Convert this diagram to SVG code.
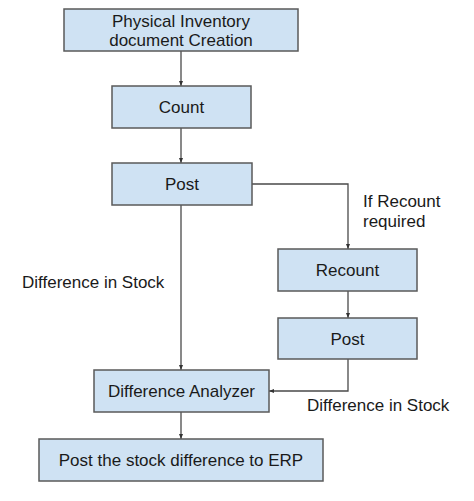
<svg xmlns="http://www.w3.org/2000/svg" width="474" height="501" viewBox="0 0 474 501">
<defs>
<style>
.box{fill:#cfe2f3;stroke:#5a5a5a;stroke-width:1.5}
.t{font-family:"Liberation Sans",Arial,sans-serif;font-size:17px;fill:#1a1a1a}
.c{text-anchor:middle}
.ln{fill:none;stroke:#4a4a4a;stroke-width:1.3}
</style>
<marker id="ah" viewBox="0 0 10 10" refX="10" refY="5" markerWidth="5" markerHeight="5" orient="auto" markerUnits="userSpaceOnUse">
<path d="M0,1 L10,5 L0,9 z" fill="#333"/>
</marker>
</defs>
<rect width="474" height="501" fill="#ffffff"/>
<g id="connectors">
<line class="ln" x1="181" y1="51" x2="181" y2="86" marker-end="url(#ah)"/>
<line class="ln" x1="181" y1="128" x2="181" y2="163" marker-end="url(#ah)"/>
<line class="ln" x1="181" y1="205" x2="181" y2="370" marker-end="url(#ah)"/>
<polyline class="ln" points="252,184 348,184 348,249" marker-end="url(#ah)"/>
<line class="ln" x1="348" y1="291" x2="348" y2="318" marker-end="url(#ah)"/>
<polyline class="ln" points="348,359 348,391 269,391" marker-end="url(#ah)"/>
<line class="ln" x1="181" y1="412" x2="181" y2="439" marker-end="url(#ah)"/>
</g>
<g id="n1"><rect class="box" x="64" y="9" width="234" height="42"/>
<text class="t c" x="181" y="27">Physical Inventory</text>
<text class="t c" x="181" y="46">document Creation</text></g>
<g id="n2"><rect class="box" x="112" y="86" width="139" height="42"/>
<text class="t c" x="181.5" y="113">Count</text></g>
<g id="n3"><rect class="box" x="112" y="163" width="140" height="42"/>
<text class="t c" x="182" y="190">Post</text></g>
<g id="n4"><rect class="box" x="278" y="249" width="139" height="42"/>
<text class="t c" x="347.5" y="276">Recount</text></g>
<g id="n5"><rect class="box" x="278" y="318" width="139" height="41"/>
<text class="t c" x="347.5" y="345">Post</text></g>
<g id="n6"><rect class="box" x="94" y="370" width="175" height="42"/>
<text class="t c" x="181.5" y="397">Difference Analyzer</text></g>
<g id="n7"><rect class="box" x="39" y="439" width="284" height="42"/>
<text class="t c" x="181" y="466">Post the stock difference to ERP</text></g>
<g id="labels">
<text class="t" x="22" y="288">Difference in Stock</text>
<text class="t" x="307" y="411">Difference in Stock</text>
<text class="t" x="363" y="207">If Recount</text>
<text class="t" x="363" y="227">required</text>
</g>
</svg>
